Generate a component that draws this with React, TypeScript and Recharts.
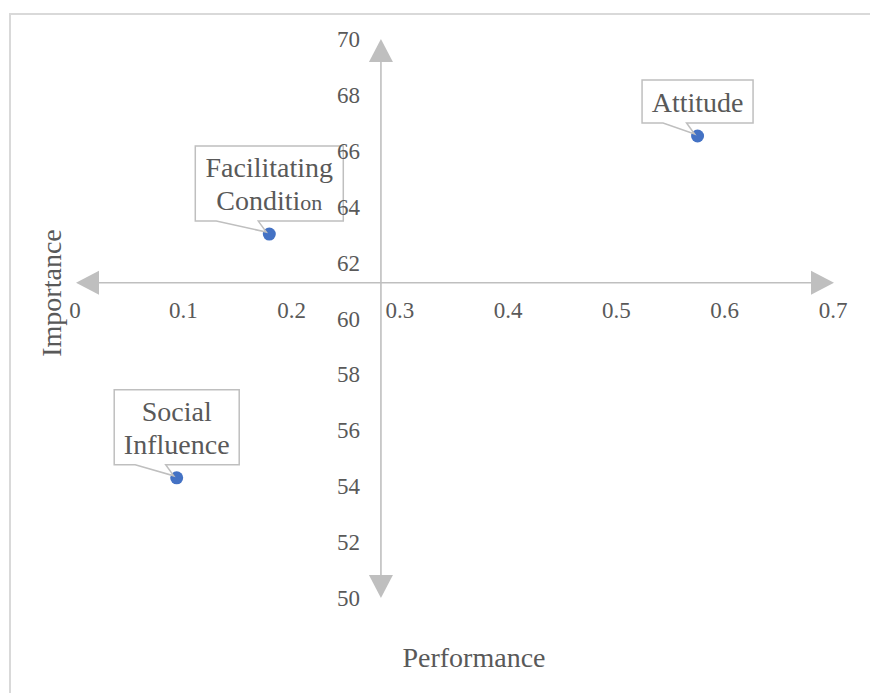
import React from "react";
import { ScatterChart, Scatter, XAxis, YAxis, ReferenceLine } from "recharts";

// ---- data ----
const pointNames = ["Attitude", "Facilitating Condition", "Social Influence"];
const performanceValues = [0.574, 0.1785, 0.093];
const importanceValues = [66.53, 63.02, 54.3];
const xTicks = [0, 0.1, 0.2, 0.3, 0.4, 0.5, 0.6, 0.7];
const yTicks = [50, 52, 54, 56, 58, 60, 62, 64, 66, 68, 70];
const xDomain = [0, 0.7];
const yDomain = [50, 70];
const axisCrossX = 0.2816;
const axisCrossY = 61.28;

const data = pointNames.map((name, i) => ({
  name,
  x: performanceValues[i],
  y: importanceValues[i],
}));

// ---- layout / style ----
const W = 870;
const H = 693;
const XAXIS_H = 30;
const YAXIS_W = 30;
const PLOT = { top: 39, right: 36, bottom: 95, left: 76 };
const M = { top: PLOT.top, right: PLOT.right, bottom: PLOT.bottom - XAXIS_H, left: PLOT.left - YAXIS_W };
const plotW = W - PLOT.left - PLOT.right;
const plotH = H - PLOT.top - PLOT.bottom;
const FONT = "'Liberation Serif', 'Times New Roman', serif";
const TXT = "#595959";
const AX = "#bfbfbf";

const px = (v: number) => PLOT.left + ((v - xDomain[0]) / (xDomain[1] - xDomain[0])) * plotW;
const py = (v: number) => PLOT.top + ((yDomain[1] - v) / (yDomain[1] - yDomain[0])) * plotH;

const calloutStyle: Record<string, { w: number; lines: string[] }> = {
  Attitude: { w: 111, lines: ["Attitude"] },
  "Facilitating Condition": { w: 148, lines: ["Facilitating", "Conditi|on"] },
  "Social Influence": { w: 125, lines: ["Social", "Influence"] },
};

const XTick = (props: any) => {
  const { x, payload } = props;
  const yy = py(axisCrossY) + 35;
  return (
    <text x={x - 1} y={yy} textAnchor="middle" fill={TXT} fontSize={23} fontFamily={FONT}>
      {payload.value}
    </text>
  );
};

const YTick = (props: any) => {
  const { y, payload } = props;
  const xx = px(axisCrossX) - 21;
  return (
    <text x={xx} y={y + 8} textAnchor="end" fill={TXT} fontSize={23} fontFamily={FONT}>
      {payload.value}
    </text>
  );
};

const arrowLine = (p: any) => {
  const { x1, y1, x2, y2 } = p;
  const L = 23;
  const hw = 12;
  if (Math.abs(y1 - y2) < 0.5) {
    const a = Math.min(x1, x2);
    const b = Math.max(x1, x2);
    const y = y1;
    return (
      <g>
        <line x1={a + L - 2} y1={y} x2={b - L + 2} y2={y} stroke={AX} strokeWidth={1.6} />
        <polygon points={`${a},${y} ${a + L},${y - hw} ${a + L},${y + hw}`} fill={AX} />
        <polygon points={`${b},${y} ${b - L},${y - hw} ${b - L},${y + hw}`} fill={AX} />
      </g>
    );
  }
  const a = Math.min(y1, y2);
  const b = Math.max(y1, y2);
  const x = x1;
  return (
    <g>
      <line x1={x} y1={a + L - 2} x2={x} y2={b - L + 2} stroke={AX} strokeWidth={1.6} />
      <polygon points={`${x},${a} ${x - hw},${a + L} ${x + hw},${a + L}`} fill={AX} />
      <polygon points={`${x},${b} ${x - hw},${b - L} ${x + hw},${b - L}`} fill={AX} />
    </g>
  );
};

const PointShape = (props: any) => {
  const { cx, cy, payload } = props;
  const st = calloutStyle[payload.name];
  const two = st.lines.length > 1;
  const bh = two ? 75 : 43;
  const bottom = cy - 13;
  const top = bottom - bh;
  const left = cx - st.w / 2;
  const right = cx + st.w / 2;
  const pL = left + 21;
  const pR = cx - 11;
  const d = `M${left},${top} L${right},${top} L${right},${bottom} L${pR},${bottom} L${cx - 3},${cy - 2} L${pL},${bottom} L${left},${bottom} Z`;
  const baselines = two ? [cy - 57, cy - 24] : [cy - 24];
  return (
    <g>
      <circle cx={cx} cy={cy} r={6.5} fill="#4472c4" />
      <path d={d} fill="#ffffff" stroke={AX} strokeWidth={1.5} />
      {st.lines.map((ln, i) => {
        const parts = ln.split("|");
        return (
          <text
            key={i}
            x={cx}
            y={baselines[i]}
            textAnchor="middle"
            fill={TXT}
            fontSize={28}
            fontFamily={FONT}
          >
            {parts[0]}
            {parts[1] ? <tspan fontSize={22}>{parts[1]}</tspan> : null}
          </text>
        );
      })}
    </g>
  );
};

export default function App() {
  return (
    <div style={{ width: W, height: H, position: "relative", overflow: "hidden", background: "#fff" }}>
      <style>{"html,body{margin:0;padding:0;overflow:hidden;background:#fff}"}</style>
      <div
        style={{
          position: "absolute",
          left: 9,
          top: 13,
          width: 1000,
          height: 1000,
          borderLeft: "2px solid #d9d9d9",
          borderTop: "2px solid #d9d9d9",
          boxSizing: "border-box",
        }}
      />
      <div style={{ position: "absolute", left: 0, top: 0 }}>
        <ScatterChart width={W} height={H} margin={M}>
          <XAxis
            type="number"
            dataKey="x"
            domain={xDomain}
            ticks={xTicks}
            height={XAXIS_H}
            axisLine={false}
            tickLine={false}
            tick={XTick}
            interval={0}
            allowDataOverflow
          />
          <YAxis
            type="number"
            dataKey="y"
            domain={yDomain}
            ticks={yTicks}
            width={YAXIS_W}
            axisLine={false}
            tickLine={false}
            tick={YTick}
            interval={0}
            allowDataOverflow
          />
          <ReferenceLine y={axisCrossY} shape={arrowLine} />
          <ReferenceLine x={axisCrossX} shape={arrowLine} />
          <Scatter data={data} shape={PointShape} isAnimationActive={false} />
          <text x={474} y={667} textAnchor="middle" fill={TXT} fontSize={28} fontFamily={FONT}>
            Performance
          </text>
          <text
            x={61}
            y={293}
            textAnchor="middle"
            fill={TXT}
            fontSize={28}
            fontFamily={FONT}
            transform="rotate(-90 61 293)"
          >
            Importance
          </text>
        </ScatterChart>
      </div>
    </div>
  );
}
